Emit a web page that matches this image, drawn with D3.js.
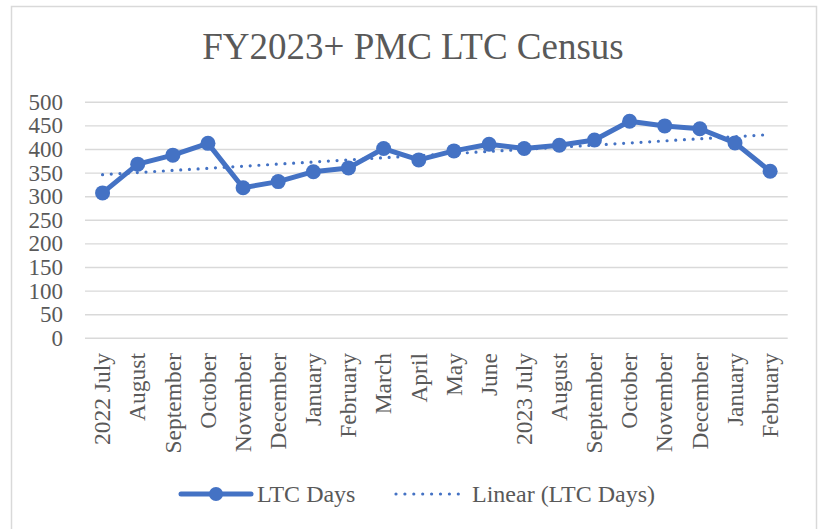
<!DOCTYPE html>
<html>
<head>
<meta charset="utf-8">
<script src="https://cdn.jsdelivr.net/npm/d3@7"></script>
<style>
  html, body { margin: 0; padding: 0; background: #fff; }
  svg { display: block; }
  text { font-family: "Liberation Serif", "Times New Roman", serif; fill: #595959; }
</style>
</head>
<body>
<svg id="chart" width="822" height="529"></svg>
<script>
const categories = ["2022 July","August","September","October","November","December","January","February","March","April","May","June","2023 July","August","September","October","November","December","January","February"];
const ltcDays = [308, 369, 388, 413, 319, 332, 353, 361, 402, 378, 397, 411, 402, 409, 420, 460, 450, 444, 414, 354];
const yTicks = [0, 50, 100, 150, 200, 250, 300, 350, 400, 450, 500];
const title = "FY2023+ PMC LTC Census";
const seriesName = "LTC Days";
const trendName = "Linear (LTC Days)";

const color = "#4472C4";
const grid = "#d9d9d9";
const svg = d3.select("#chart");

// outer border
svg.append("rect").attr("x", 11.5).attr("y", 6.5).attr("width", 805).attr("height", 540)
  .attr("fill", "none").attr("stroke", grid).attr("stroke-width", 1.5);

svg.append("text").attr("x", 413).attr("y", 59).attr("text-anchor", "middle")
  .style("font-size", "37px").text(title);

const keys = categories.map((c, i) => i);
const x = d3.scaleBand().domain(keys).range([85, 787.7]);
const y = d3.scaleLinear().domain([0, 500]).range([338.3, 102.3]);
const cx = i => x(i) + x.bandwidth() / 2;

// gridlines
svg.append("g").selectAll("line").data(yTicks).join("line")
  .attr("x1", 85).attr("x2", 787.7)
  .attr("y1", d => y(d)).attr("y2", d => y(d))
  .attr("stroke", grid).attr("stroke-width", 1.4);

// y labels
svg.append("g").selectAll("text").data(yTicks).join("text")
  .attr("x", 63).attr("y", d => y(d)).attr("dy", "0.33em")
  .attr("text-anchor", "end").style("font-size", "23px").text(d => d);

// x labels
svg.append("g").selectAll("text").data(keys).join("text")
  .attr("transform", i => `translate(${cx(i)},353) rotate(-90)`)
  .attr("dy", "0.33em").attr("text-anchor", "end")
  .style("font-size", "23.5px").text(i => categories[i]);

// linear trend (least squares on data)
const n = ltcDays.length;
const mx = d3.mean(keys), my = d3.mean(ltcDays);
const slope = d3.sum(keys, i => (i - mx) * (ltcDays[i] - my)) / d3.sum(keys, i => (i - mx) ** 2);
const icpt = my - slope * mx;
svg.append("path")
  .attr("d", d3.line()([[cx(0), y(icpt)], [cx(n - 1), y(icpt + slope * (n - 1))]]))
  .attr("stroke", color).attr("stroke-width", 3.2).attr("fill", "none")
  .attr("stroke-linecap", "round").attr("stroke-dasharray", "0 8.7");

// series line
svg.append("path").datum(keys)
  .attr("d", d3.line().x(i => cx(i)).y(i => y(ltcDays[i])))
  .attr("stroke", color).attr("stroke-width", 5).attr("fill", "none")
  .attr("stroke-linejoin", "round");
svg.append("g").selectAll("circle").data(keys).join("circle")
  .attr("cx", i => cx(i)).attr("cy", i => y(ltcDays[i])).attr("r", 7.5).attr("fill", color);

// legend
const lg = svg.append("g");
lg.append("line").attr("x1", 181).attr("x2", 251).attr("y1", 494).attr("y2", 494)
  .attr("stroke", color).attr("stroke-width", 5).attr("stroke-linecap", "round");
lg.append("circle").attr("cx", 216).attr("cy", 494).attr("r", 7).attr("fill", color);
lg.append("text").attr("x", 257).attr("y", 502).style("font-size", "24px").text(seriesName);
lg.append("line").attr("x1", 396).attr("x2", 459).attr("y1", 494).attr("y2", 494)
  .attr("stroke", color).attr("stroke-width", 3.2).attr("stroke-linecap", "round")
  .attr("stroke-dasharray", "0 8.9");
lg.append("text").attr("x", 472).attr("y", 502).style("font-size", "24px").text(trendName);
</script>
</body>
</html>
